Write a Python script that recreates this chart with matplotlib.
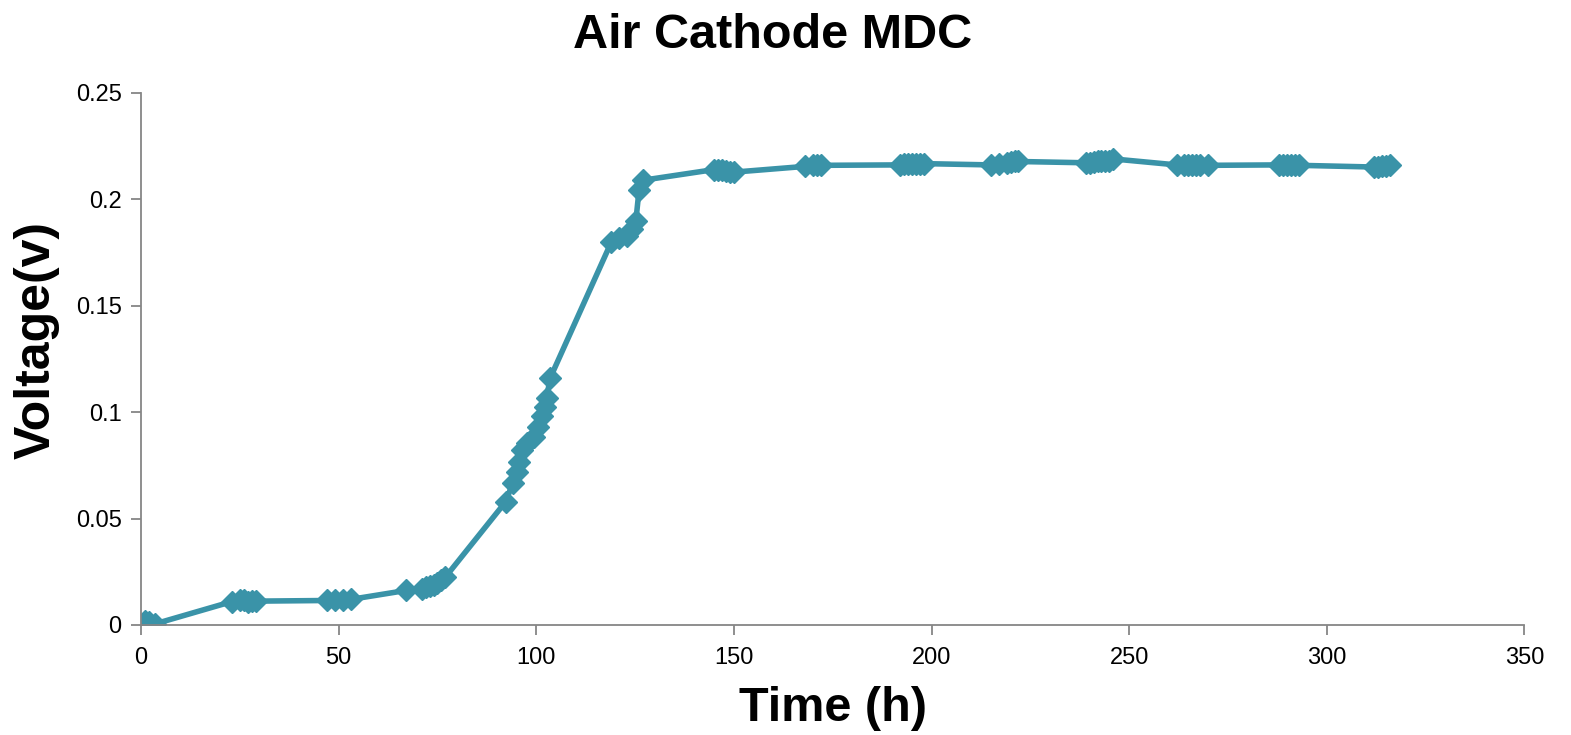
import matplotlib.pyplot as plt
from matplotlib.ticker import FuncFormatter

# data
time_h = [1, 2, 3.5,
          23, 25, 26, 27, 28, 29,
          47, 49, 51, 53,
          67, 71, 72, 73, 74, 75, 76, 77,
          92.3, 94, 95, 95.7, 96.5, 97.6, 99.3, 100.5, 101.4, 102.2, 102.6, 103.5,
          119, 121, 122.9, 124.3, 125.2, 126, 127,
          145, 146, 147, 148, 149, 150,
          168, 170, 171, 172,
          192, 193, 194, 195, 196, 197, 198,
          215, 217, 219, 220, 221, 222,
          239, 240, 241, 242, 243, 244, 245, 246,
          262, 264, 265, 266, 267, 268, 270,
          288, 289, 290, 291, 292, 293,
          312, 313, 314, 315, 316]
voltage = [0.002, 0.0015, 0.0005,
           0.011, 0.0115, 0.0115, 0.011, 0.0112, 0.0112,
           0.0115, 0.0118, 0.0118, 0.012,
           0.0162, 0.017, 0.0178, 0.0185, 0.019, 0.0198, 0.021, 0.0225,
           0.058, 0.0666, 0.072, 0.0768, 0.082, 0.0854, 0.0885, 0.093, 0.098, 0.1026, 0.1065, 0.116,
           0.180, 0.1817, 0.183, 0.186, 0.190, 0.2045, 0.209,
           0.214, 0.214, 0.2138, 0.2135, 0.213, 0.2128,
           0.2155, 0.216, 0.216, 0.216,
           0.2162, 0.2165, 0.2165, 0.2168, 0.2168, 0.2168, 0.2168,
           0.2162, 0.2165, 0.2172, 0.2175, 0.2178, 0.2178,
           0.2172, 0.217, 0.2175, 0.2178, 0.218, 0.218, 0.2182, 0.219,
           0.2162, 0.216, 0.2162, 0.216, 0.2162, 0.216, 0.216,
           0.2162, 0.216, 0.2162, 0.216, 0.2162, 0.216,
           0.2152, 0.2152, 0.2155, 0.2158, 0.216]

x_ticks = [0, 50, 100, 150, 200, 250, 300, 350]
y_ticks = [0, 0.05, 0.1, 0.15, 0.2, 0.25]

plt.rcParams['font.family'] = ['Liberation Sans', 'DejaVu Sans']
color = '#3A93A8'
axis_grey = '#868686'

fig = plt.figure(figsize=(15.71, 7.35), dpi=100)
ax = fig.add_axes([0.0898, 0.1497, 0.8805, 0.7238])

ax.plot(time_h, voltage, color=color, linewidth=4, marker='D', markersize=11,
        markerfacecolor=color, markeredgecolor=color)

ax.set_xlim(0, 350)
ax.set_ylim(0, 0.25)
ax.set_xticks(x_ticks)
ax.set_yticks(y_ticks)
ax.yaxis.set_major_formatter(FuncFormatter(lambda v, p: f'{v:g}'))

for side in ['top', 'right']:
    ax.spines[side].set_visible(False)
for side in ['left', 'bottom']:
    ax.spines[side].set_color(axis_grey)
    ax.spines[side].set_linewidth(1.3)
ax.tick_params(direction='out', length=7, width=1.3, color=axis_grey, labelsize=17)
ax.tick_params(axis='x', pad=9)
ax.tick_params(axis='y', pad=7)
for lbl in ax.get_xticklabels() + ax.get_yticklabels():
    lbl.set_family(['Liberation Sans Narrow', 'Liberation Sans'])

ax.set_xlabel('Time (h)', fontsize=35, fontweight='bold', labelpad=12)
ax.set_ylabel('Voltage(v)', fontsize=36, fontweight='bold')
ax.yaxis.set_label_coords(-0.059, 0.535)
fig.text(0.492, 0.952, 'Air Cathode MDC', fontsize=35, fontweight='bold',
         ha='center', va='center')

plt.savefig('out.png', dpi=100)
plt.close()
